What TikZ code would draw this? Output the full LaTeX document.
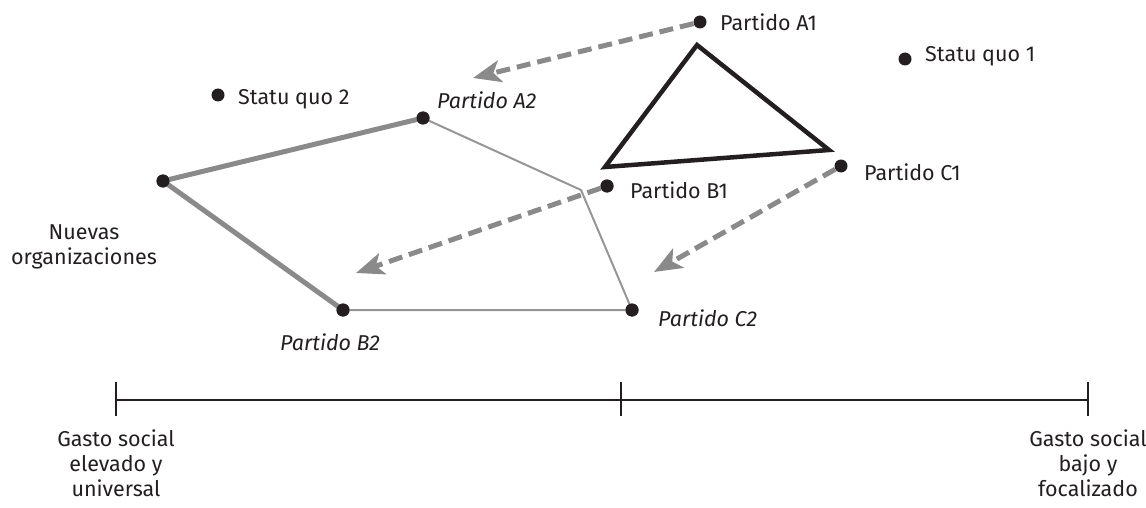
\documentclass[tikz,border=0pt]{standalone}
\usepackage{fontspec}
\setmainfont{Fira Sans}
\usetikzlibrary{arrows.meta}
\definecolor{ink}{HTML}{231F20}
\definecolor{mgray}{HTML}{8A8A8A}
\begin{document}
\begin{tikzpicture}[x=1pt,y=-1pt,
  dot/.style={circle, fill=ink, inner sep=0pt, minimum size=13pt},
  lbl/.style={font=\fontsize{21.5}{25}\selectfont, text=ink, inner sep=0pt},
  ilbl/.style={lbl, font=\fontsize{21.5}{25}\selectfont\itshape},
  move/.style={draw=mgray, line width=5pt, dash pattern=on 14pt off 7pt,
    -{Stealth[length=28pt,width=22pt,inset=7pt]}},
  thickgray/.style={draw=mgray, line width=5pt},
  thingray/.style={draw=mgray!90, line width=2pt},
  axis/.style={draw=ink, line width=2pt}
]
\useasboundingbox (0,0) rectangle (1146,508);

% points
\node[dot] (A1) at (700,22) {};
\node[dot] (SQ1) at (905,59) {};
\node[dot] (SQ2) at (218,95) {};
\node[dot] (A2) at (423,118) {};
\node[dot] (NO) at (163,181) {};
\node[dot] (B2) at (343,310) {};
\node[dot] (C2) at (632,310) {};
\node[dot] (B1) at (607,186) {};
\node[dot] (C1) at (841,166) {};
\coordinate (K) at (581,190);
\coordinate (tA) at (473,78);
\coordinate (tB) at (356,273);
\coordinate (tC) at (654,272);
\coordinate (T1) at (697,45);
\coordinate (T2) at (829,150);
\coordinate (T3) at (605,167);

% polygon
\draw[thingray, line join=round] (A2.center) -- (K) -- (C2.center) -- (B2.center);
\draw[thickgray] (A2.center) -- (NO.center) -- (B2.center);
% redraw dots on top
\foreach \n in {A2,NO,B2,C2} \node[dot] at (\n) {};

% triangle
\draw[draw=ink, line width=4.5pt, line join=miter] (T1) -- (T2) -- (T3) -- cycle;

% moves
\draw[move] (A1) -- (tA);
\draw[move] (B1) -- (tB);
\draw[move] (C1) -- (tC);
\node[dot] at (B1) {};

% labels
\node[lbl, anchor=west] (lA1) at (720,22) {Partido A1};
\node[lbl, anchor=west] (lSQ1) at (925,56) {Statu quo 1};
\node[lbl, anchor=west] (lSQ2) at (238,99) {Statu quo 2};
\node[ilbl, anchor=west] (lA2) at (437,100) {Partido A2};
\node[lbl, anchor=west] (lB1) at (630,190) {Partido B1};
\node[lbl, anchor=west] (lC1) at (864,172) {Partido C1};
\node[ilbl, anchor=west] (lC2) at (658,318) {Partido C2};
\node[ilbl] (lB2) at (330,342) {Partido B2};
\node[lbl, align=center] (lNO) at (84,247) {Nuevas\\organizaciones};

% axis
\coordinate (X0) at (116,400);
\coordinate (X1) at (621,400);
\coordinate (X2) at (1088,400);
\draw[axis] (X0) -- (X2);
\foreach \p in {X0,X1,X2} \draw[axis] ([yshift=-16pt]\p) -- ([yshift=18pt]\p);
\node[lbl, align=center, anchor=north] (gL) at (116,430) {Gasto social\\elevado y\\universal};
\node[lbl, align=center, anchor=north] (gR) at (1088,430) {Gasto social\\bajo y\\focalizado};
\end{tikzpicture}
\end{document}
